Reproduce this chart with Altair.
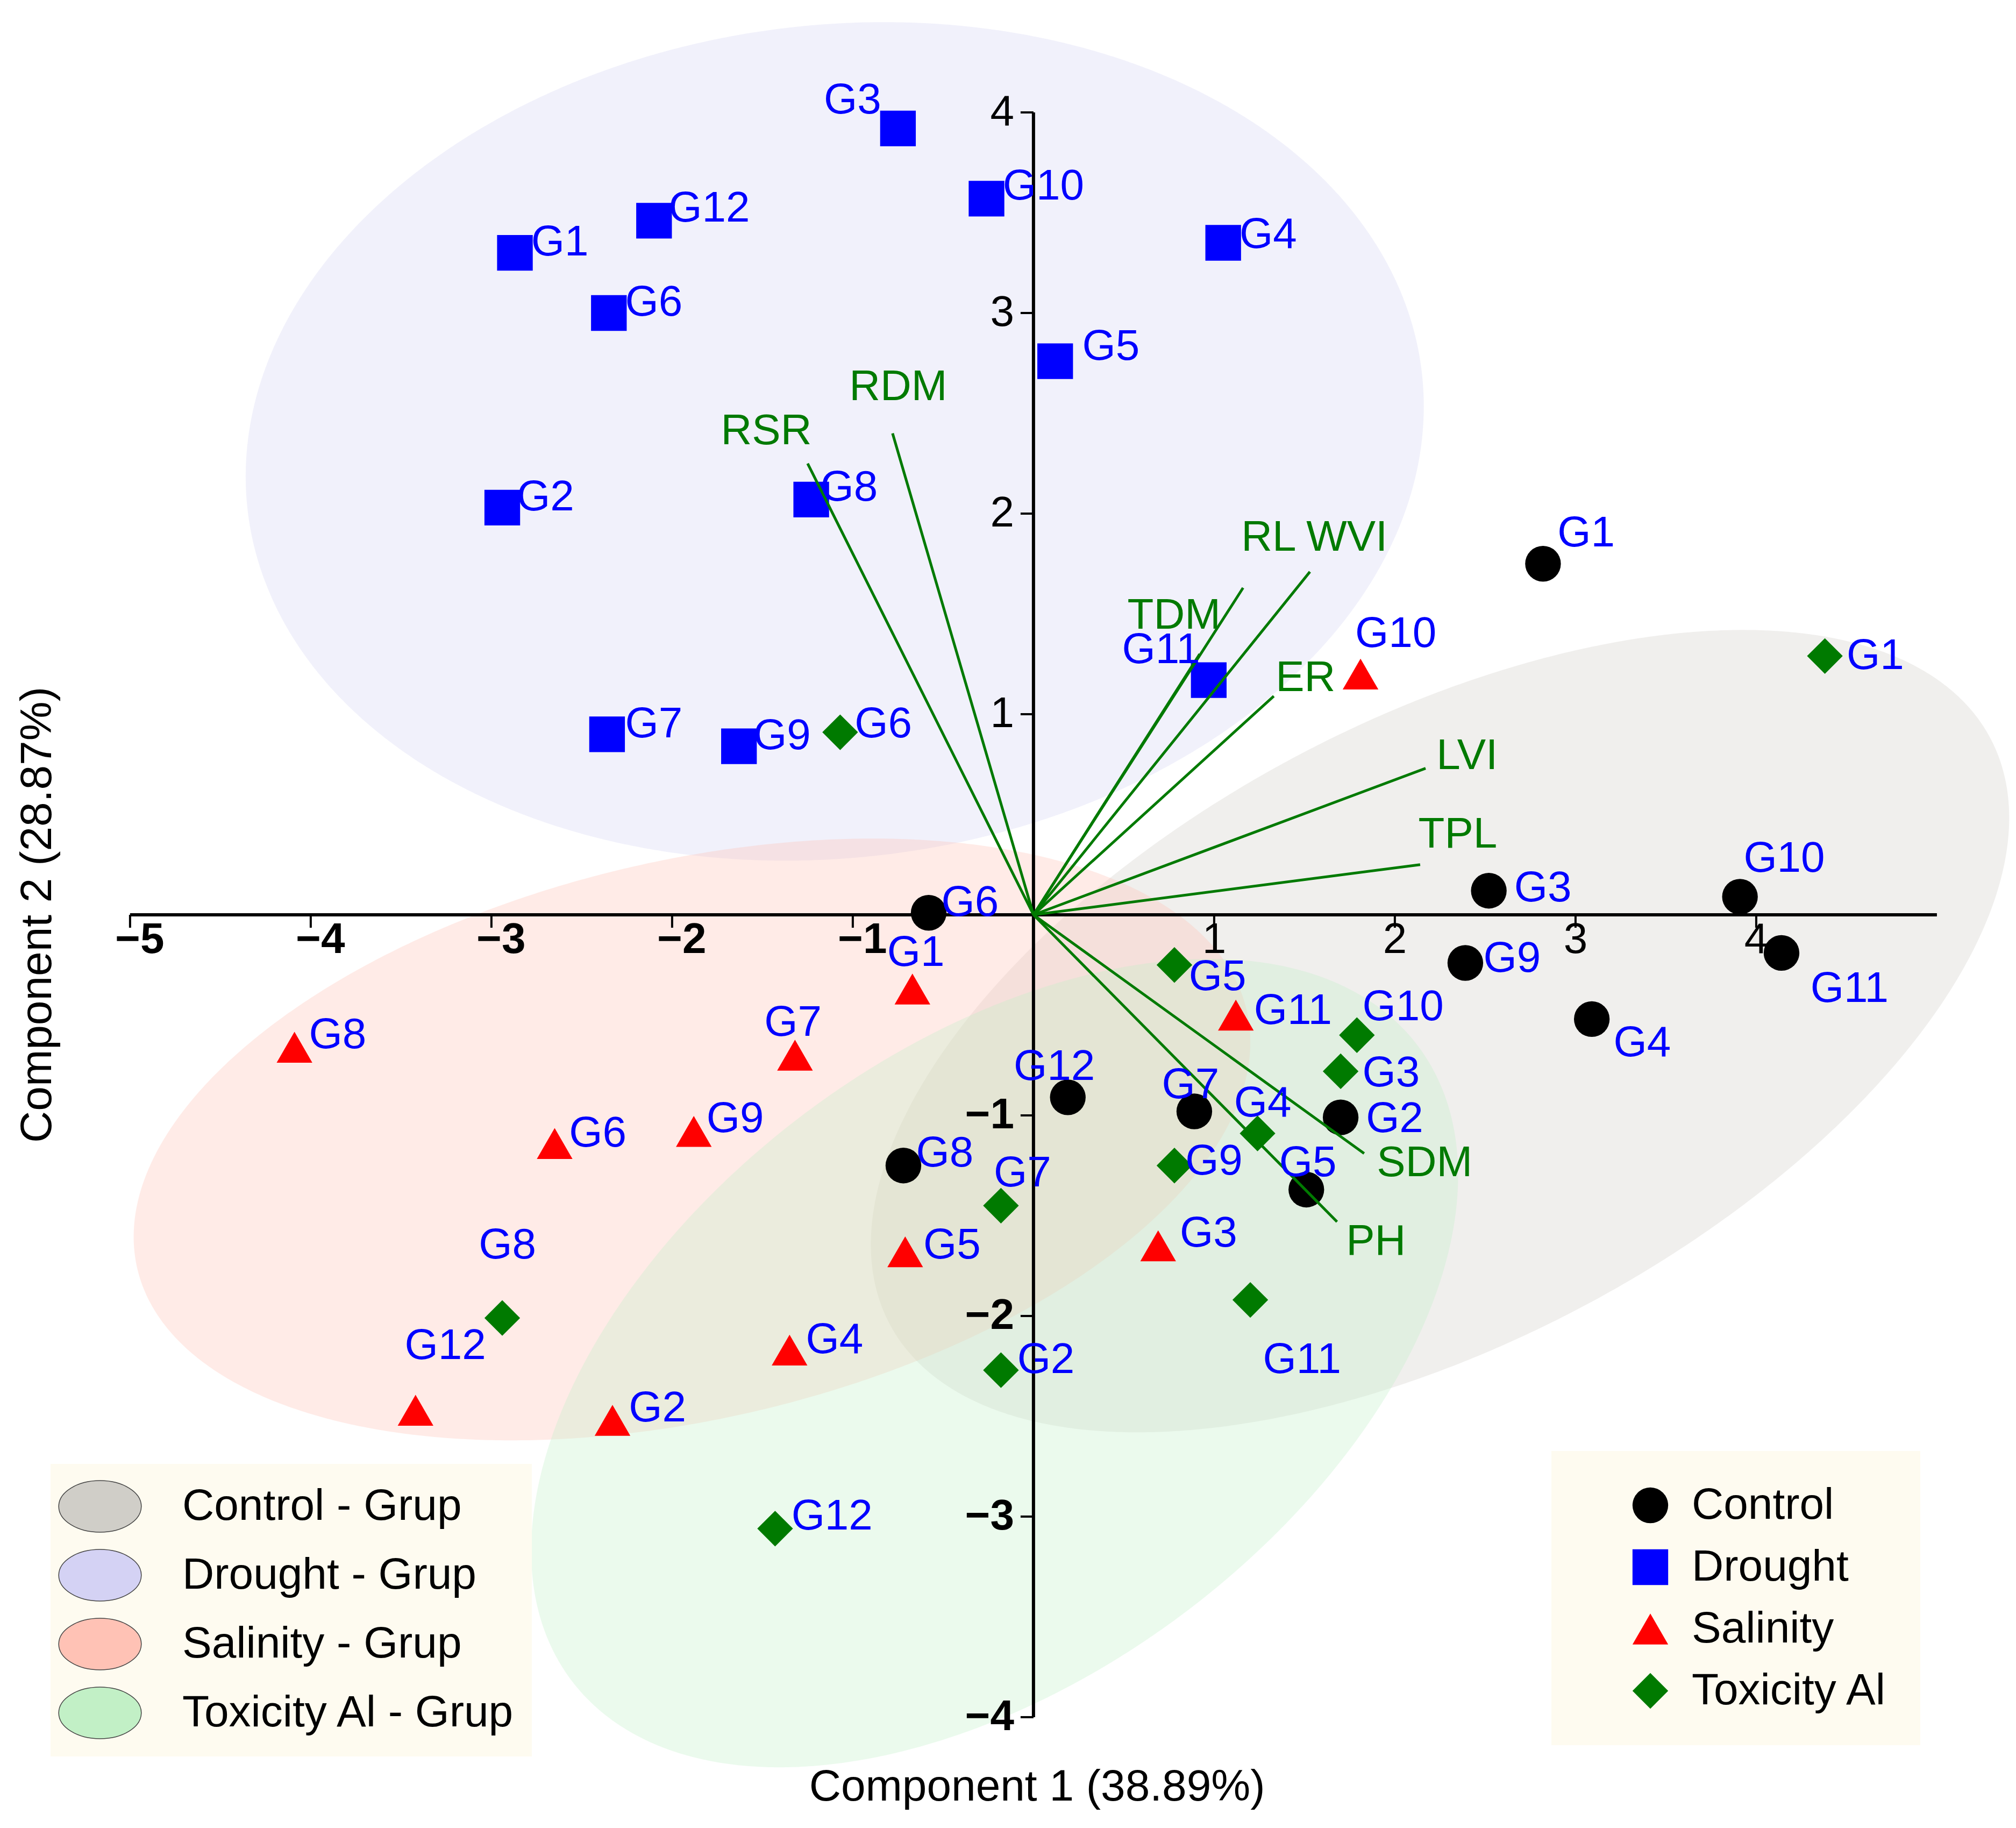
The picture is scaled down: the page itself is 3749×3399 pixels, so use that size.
import altair as alt
import numpy as np
import pandas as pd

# ===========================
# DATA
# ===========================
genotipos = ["G1", "G2", "G3", "G4", "G5", "G6", "G7", "G8", "G9", "G10", "G11", "G12"]
grupos = ["Control", "Drought", "Salinity", "Toxicity Al"]

control_x = [2.82, 1.70, 2.52, 3.09, 1.51, -0.58, 0.89, -0.72, 2.39, 3.91, 4.14, 0.19]
control_y = [1.75, -1.01, 0.12, -0.52, -1.37, 0.01, -0.98, -1.25, -0.24, 0.09, -0.19, -0.91]
drought_x = [-2.87, -2.94, -0.75, 1.05, 0.12, -2.35, -2.36, -1.23, -1.63, -0.26, 0.97, -2.10]
drought_y = [3.30, 2.03, 3.92, 3.35, 2.76, 3.00, 0.90, 2.07, 0.84, 3.57, 1.17, 3.46]
salinity_x = [-0.67, -2.33, 0.69, -1.35, -0.71, -2.65, -1.32, -4.09, -1.88, 1.81, 1.12, -3.42]
salinity_y = [-0.37, -2.52, -1.65, -2.17, -1.68, -1.14, -0.70, -0.66, -1.08, 1.20, -0.50, -2.47]
toxicity_x = [4.38, -0.18, 1.70, 1.24, 0.78, -1.07, -0.18, -2.94, 0.78, 1.79, 1.20, -1.43]
toxicity_y = [1.29, -2.27, -0.78, -1.09, -0.25, 0.91, -1.45, -2.01, -1.25, -0.60, -1.92, -3.06]

# where each genotype label sits (left edge, vertical middle)
control_lx = [2.90, 1.84, 2.66, 3.21, 1.36, -0.51, 0.71, -0.65, 2.49, 3.93, 4.30, -0.11]
control_ly = [1.90, -1.02, 0.13, -0.64, -1.24, 0.06, -0.85, -1.19, -0.22, 0.28, -0.37, -0.76]
drought_lx = [-2.78, -2.86, -1.16, 1.14, 0.27, -2.26, -2.26, -1.18, -1.55, -0.17, 0.49, -2.02]
drought_ly = [3.35, 2.08, 4.06, 3.39, 2.83, 3.05, 0.95, 2.13, 0.89, 3.63, 1.32, 3.52]
salinity_lx = [-0.81, -2.24, 0.81, -1.26, -0.61, -2.57, -1.49, -4.01, -1.81, 1.78, 1.22, -3.48]
salinity_ly = [-0.19, -2.46, -1.59, -2.12, -1.65, -1.09, -0.54, -0.60, -1.02, 1.40, -0.48, -2.15]
toxicity_lx = [4.50, -0.09, 1.82, 1.11, 0.86, -0.99, -0.22, -3.07, 0.84, 1.82, 1.27, -1.34]
toxicity_ly = [1.29, -2.22, -0.79, -0.94, -0.31, 0.95, -1.29, -1.65, -1.23, -0.46, -2.22, -3.00]

# loadings (vector ends) and their labels
variaveis = ["RSR", "RDM", "TDM", "RL", "WVI", "ER", "LVI", "TPL", "SDM", "PH"]
var_x = [-1.25, -0.78, 0.92, 1.16, 1.53, 1.33, 2.17, 2.14, 1.83, 1.68]
var_y = [2.25, 2.40, 1.30, 1.63, 1.71, 1.09, 0.73, 0.25, -1.19, -1.53]
var_lx = [-1.73, -1.02, 0.52, 1.15, 1.51, 1.34, 2.23, 2.13, 1.90, 1.73]
var_ly = [2.41, 2.63, 1.49, 1.88, 1.88, 1.18, 0.79, 0.40, -1.24, -1.63]

# group ellipses: centre, half width, half height, xy term
elipses = ["Control - Grup", "Drought - Grup", "Salinity - Grup", "Toxicity Al - Grup"]
ell_cx = [2.25, -1.10, -1.89, -0.215]
ell_cy = [-0.58, 2.36, -1.12, -2.235]
ell_rx = [3.15, 3.26, 3.09, 2.565]
ell_ry = [2.00, 2.09, 1.50, 2.015]
ell_rxy = [3.35, 0.57, 1.50, 2.40]

x_ticks = [-5, -4, -3, -2, -1, 1, 2, 3, 4]
y_ticks = [-4, -3, -2, -1, 1, 2, 3, 4]
x_title = "Component 1 (38.89%)"
y_title = "Component 2 (28.87%)"

# ===========================
# TABLES
# ===========================
pontos = pd.DataFrame({
    "grupo": np.repeat(grupos, 12),
    "gen": genotipos * 4,
    "x": control_x + drought_x + salinity_x + toxicity_x,
    "y": control_y + drought_y + salinity_y + toxicity_y,
    "lx": control_lx + drought_lx + salinity_lx + toxicity_lx,
    "ly": control_ly + drought_ly + salinity_ly + toxicity_ly,
})

vetores = pd.DataFrame({"var": variaveis, "x0": 0.0, "y0": 0.0, "x": var_x, "y": var_y,
                        "lx": var_lx, "ly": var_ly})

# ellipse outline as upper / lower edge for an area mark
linhas = []
for nome, cx, cy, rx, ry, rxy in zip(elipses, ell_cx, ell_cy, ell_rx, ell_ry, ell_rxy):
    t = np.linspace(0, np.pi, 400)
    dx = -rx * np.cos(t)
    meio = cy + (rxy / rx ** 2) * dx
    meia = np.sqrt(max(ry ** 2 - rxy ** 2 / rx ** 2, 0) * np.clip(1 - dx ** 2 / rx ** 2, 0, None))
    for a, m, h in zip(cx + dx, meio, meia):
        linhas.append({"elipse": nome, "x": a, "ylo": m - h, "yhi": m + h})
elip_df = pd.DataFrame(linhas)

eixos = pd.DataFrame({"x": [-5, 0], "x2": [5, 0], "y": [0, -4], "y2": [0, 4]})
xt = pd.DataFrame({"v": x_ticks, "zero": 0.0, "txt": [str(v).replace("-", "\u2212") for v in x_ticks]})
yt = pd.DataFrame({"v": y_ticks, "zero": 0.0, "txt": [str(v).replace("-", "\u2212") for v in y_ticks]})
titulos = pd.DataFrame({"x": [0.02, -5.51], "y": [-4.35, 0.0], "txt": [x_title, y_title], "ang": [0, 270]})

# ===========================
# SCALES
# ===========================
W, H = 3730, 3380
xs = alt.Scale(domain=[-5.696, 5.405], nice=False, zero=False)
ys = alt.Scale(domain=[-4.523, 4.539], nice=False, zero=False)
FONTE = "Liberation Sans"


def X(f):
    return alt.X(f, type="quantitative", scale=xs, axis=None)


def Y(f):
    return alt.Y(f, type="quantitative", scale=ys, axis=None)


ELIPSE_PATH = "M -1.6 0 A 1.6 1 0 1 1 1.6 0 A 1.6 1 0 1 1 -1.6 0 Z"

# ellipses
elip = alt.Chart(elip_df).mark_area(orient="vertical", opacity=0.32).encode(
    x=X("x"),
    y=Y("ylo"),
    y2="yhi",
    color=alt.Color("elipse:N",
                    scale=alt.Scale(domain=elipses,
                                    range=["#D0CEC8", "#D4D2F4", "#FFC2B5", "#C2F0C6"]),
                    legend=alt.Legend(title=None, orient="none", legendX=86, legendY=2714,
                                      fillColor="#FEFBF0", padding=30,
                                      symbolType=ELIPSE_PATH, symbolSize=9216,
                                      symbolStrokeColor="#444444", symbolStrokeWidth=1.5,
                                      symbolOpacity=1, symbolOffset=13, labelOffset=104,
                                      labelFont=FONTE, labelFontSize=82, labelColor="black",
                                      labelLimit=0, rowPadding=26)),
    detail="elipse:N",
)

# axis through the origin
eixo = alt.Chart(eixos).mark_rule(color="black", strokeWidth=6).encode(
    x=X("x"), x2="x2", y=Y("y"), y2="y2")
xtick = alt.Chart(xt).mark_rule(color="black", strokeWidth=4, y2Offset=24).encode(
    x=X("v"), y=Y("zero"), y2="zero")
ytick = alt.Chart(yt).mark_rule(color="black", strokeWidth=4, x2Offset=-24).encode(
    y=Y("v"), x=X("zero"), x2="zero")

xlab_neg = alt.Chart(xt).transform_filter("datum.v < 0").mark_text(
    font=FONTE, fontSize=80, fontWeight="bold", align="center", baseline="top", dx=18, dy=8,
    color="black").encode(x=X("v"), y=Y("zero"), text="txt")
xlab_pos = alt.Chart(xt).transform_filter("datum.v > 0").mark_text(
    font=FONTE, fontSize=80, align="center", baseline="top", dy=8,
    color="black").encode(x=X("v"), y=Y("zero"), text="txt")
ylab_neg = alt.Chart(yt).transform_filter("datum.v < 0").mark_text(
    font=FONTE, fontSize=80, fontWeight="bold", align="right", baseline="middle", dx=-36,
    color="black").encode(x=X("zero"), y=Y("v"), text="txt")
ylab_pos = alt.Chart(yt).transform_filter("datum.v > 0").mark_text(
    font=FONTE, fontSize=80, align="right", baseline="middle", dx=-36,
    color="black").encode(x=X("zero"), y=Y("v"), text="txt")

titulo = alt.Chart(titulos).mark_text(font=FONTE, fontSize=82, color="black",
                                      align="center", baseline="middle").encode(
    x=X("x"), y=Y("y"), text="txt", angle=alt.Angle("ang:Q", scale=None))

# genotype points
leg_pontos = alt.Legend(title=None, orient="none", legendX=2877, legendY=2690,
                        fillColor="#FEFBF0", padding=60, symbolSize=4400,
                        symbolStrokeWidth=0, symbolOffset=83, labelOffset=36,
                        labelFont=FONTE, labelFontSize=82, labelColor="black",
                        labelLimit=0, rowPadding=33)
pts = alt.Chart(pontos).mark_point(filled=True, size=4400, opacity=1).encode(
    x=X("x"),
    y=Y("y"),
    color=alt.Color("grupo:N", scale=alt.Scale(domain=grupos,
                                               range=["#000000", "#0000ff", "#ff0000", "#007a00"]),
                    legend=leg_pontos),
    shape=alt.Shape("grupo:N", scale=alt.Scale(domain=grupos,
                                               range=["circle", "square", "triangle-up", "diamond"]),
                    legend=leg_pontos),
)

# loading vectors
vet = alt.Chart(vetores).mark_rule(color="#007a00", strokeWidth=5).encode(
    x=X("x0"), y=Y("y0"), x2="x", y2="y")
vet_txt = alt.Chart(vetores).mark_text(font=FONTE, fontSize=80, color="#007a00",
                                       align="left", baseline="middle").encode(
    x=X("lx"), y=Y("ly"), text="var")

pts_txt = alt.Chart(pontos).mark_text(font=FONTE, fontSize=80, color="#0000ff",
                                      align="left", baseline="middle").encode(
    x=X("lx"), y=Y("ly"), text="gen")

chart = alt.layer(
    elip, eixo, xtick, ytick, xlab_neg, xlab_pos, ylab_neg, ylab_pos, titulo,
    pts, vet, vet_txt, pts_txt,
).resolve_scale(color="independent", shape="independent").properties(
    width=W, height=H, padding=0, background="white",
    autosize=alt.AutoSizeParams(type="none"),
).configure_view(strokeWidth=0)

chart.save("out.html", embed_options={"renderer": "svg", "actions": False})
